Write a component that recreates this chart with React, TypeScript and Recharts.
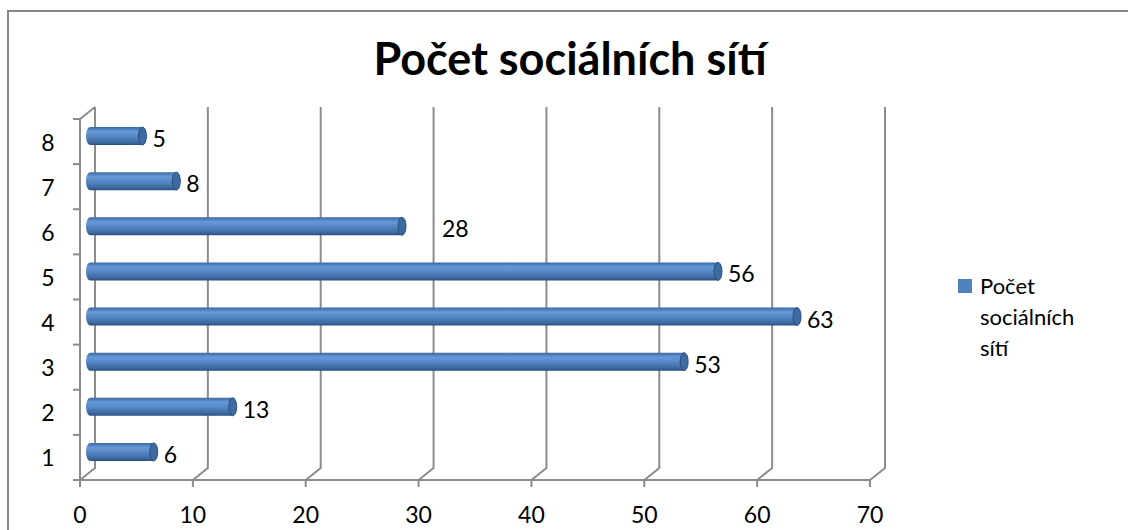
import React from 'react';
import { BarChart, Bar, XAxis, YAxis, CartesianGrid, Legend, LabelList } from 'recharts';

const categories = ['1', '2', '3', '4', '5', '6', '7', '8'];
const counts = [6, 13, 53, 63, 56, 28, 8, 5];
const xTicks = [0, 10, 20, 30, 40, 50, 60, 70];
const seriesName = 'Počet sociálních sítí';

const data = categories.map((c, i) => ({ cat: c, value: counts[i] }));

const FONT = 'Lato, "Open Sans", sans-serif';
const GRID = '#8c8c8c';
// 3D depth offsets
const DX = 15;
const DY = 12;
const BAR_DX = 6;
const BAR_DY = -6;
const PLOT_TOP = 119;
const PLOT_BOTTOM = 480;

const CylinderBar = (props: any) => {
  const { x, y, width, height } = props;
  if (!width || width <= 0) return null;
  const bx = x + BAR_DX;
  const by = y + BAR_DY;
  const h = height;
  const r = 4;
  const w = width;
  const body = `M${bx + r},${by} L${bx + w},${by} L${bx + w},${by + h} L${bx + r},${by + h} A${r},${h / 2} 0 0 1 ${bx + r},${by} Z`;
  return (
    <g>
      <path d={body} fill="url(#cyl)" />
      <ellipse cx={bx + w} cy={by + h / 2} rx={r} ry={h / 2} fill="#3d6aa1" stroke="#2b4f80" strokeWidth={1} />
    </g>
  );
};

const ValueLabel = (props: any) => {
  const { x, y, width, height, value } = props;
  // the "28" label sits further away from its bar in the original
  const extra = value === 28 ? 30 : 0;
  return (
    <text x={x + BAR_DX + width + 10 + extra} y={y + height / 2 + 5} fontSize={23} fontFamily={FONT} fill="#000">
      {value}
    </text>
  );
};

const gridLine = (props: any) => {
  const { x1, y1, y2, index } = props;
  const d = `M${x1},${y2} L${x1 + DX},${y2 - DY} L${x1 + DX},${y1 - DY}` + (index === 0 ? ` M${x1},${y1} L${x1 + DX},${y1 - DY}` : '');
  return <path key={`g${index}`} d={d} stroke={GRID} strokeWidth={2} fill="none" />;
};

const YTick = (props: any) => {
  const { y, payload, index } = props;
  const half = (PLOT_BOTTOM - PLOT_TOP) / 16;
  return (
    <g>
      <line x1={73} x2={80} y1={y + half} y2={y + half} stroke={GRID} strokeWidth={2} />
      {index === categories.length - 1 && <line x1={73} x2={80} y1={y - half} y2={y - half} stroke={GRID} strokeWidth={2} />}
      <text x={48} y={y + 9} textAnchor="middle" fontSize={23} fontFamily={FONT} fill="#000">
        {payload.value}
      </text>
    </g>
  );
};

const XTick = (props: any) => {
  const { x, payload } = props;
  return (
    <text x={x} y={523} textAnchor="middle" fontSize={23} fontFamily={FONT} fill="#000">
      {payload.value}
    </text>
  );
};

const LegendBox = () => (
  <div style={{ display: 'flex', fontFamily: FONT, fontSize: 22, lineHeight: '31px', color: '#000' }}>
    <div style={{ width: 14, height: 14, background: '#4f81bd', marginTop: 9, marginRight: 8, flex: 'none' }} />
    <div style={{ width: 108 }}>{seriesName}</div>
  </div>
);

export default function App() {
  return (
    <div style={{ position: 'absolute', left: 0, top: 0, width: 1128, height: 530, overflow: 'hidden', background: '#fff' }}>
      <div style={{ position: 'absolute', left: 7, top: 10, width: 1200, height: 600, borderLeft: '2px solid #868686', borderTop: '2px solid #868686' }} />
      <div style={{ position: 'absolute', left: 0, top: 31, width: 1140, textAlign: 'center', fontFamily: FONT, fontWeight: 'bold', fontSize: 45, color: '#000' }}>
        {seriesName}
      </div>
      <div style={{ position: 'absolute', left: 0, top: 0 }}>
        <BarChart width={1128} height={530} data={data} layout="vertical" margin={{ top: PLOT_TOP, right: 258, bottom: 0, left: 0 }}>
          <defs>
            <linearGradient id="cyl" x1="0" y1="0" x2="0" y2="1">
              <stop offset="0" stopColor="#3a67a0" />
              <stop offset="0.25" stopColor="#6699d9" />
              <stop offset="0.5" stopColor="#5889c7" />
              <stop offset="0.85" stopColor="#3d6aa0" />
              <stop offset="1" stopColor="#2a4e7f" />
            </linearGradient>
          </defs>
          <CartesianGrid horizontal={false} vertical={gridLine} />
          <XAxis
            type="number"
            domain={[0, 70]}
            ticks={xTicks}
            interval={0}
            axisLine={{ stroke: GRID, strokeWidth: 2 }}
            tickLine={{ stroke: GRID, strokeWidth: 2 }}
            tickSize={7}
            tick={XTick}
            height={530 - PLOT_BOTTOM}
          />
          <YAxis
            type="category"
            dataKey="cat"
            reversed
            width={80}
            axisLine={{ stroke: GRID, strokeWidth: 2 }}
            tickLine={false}
            tick={YTick}
            interval={0}
          />
          <Legend
            layout="vertical"
            align="center"
            verticalAlign="middle"
            content={LegendBox}
            wrapperStyle={{ position: 'absolute', left: 958, top: 270, width: 160 }}
          />
          <Bar dataKey="value" name={seriesName} barSize={18} fill="#4f81bd" shape={CylinderBar} isAnimationActive={false}>
            <LabelList dataKey="value" content={ValueLabel} />
          </Bar>
        </BarChart>
      </div>
    </div>
  );
}
